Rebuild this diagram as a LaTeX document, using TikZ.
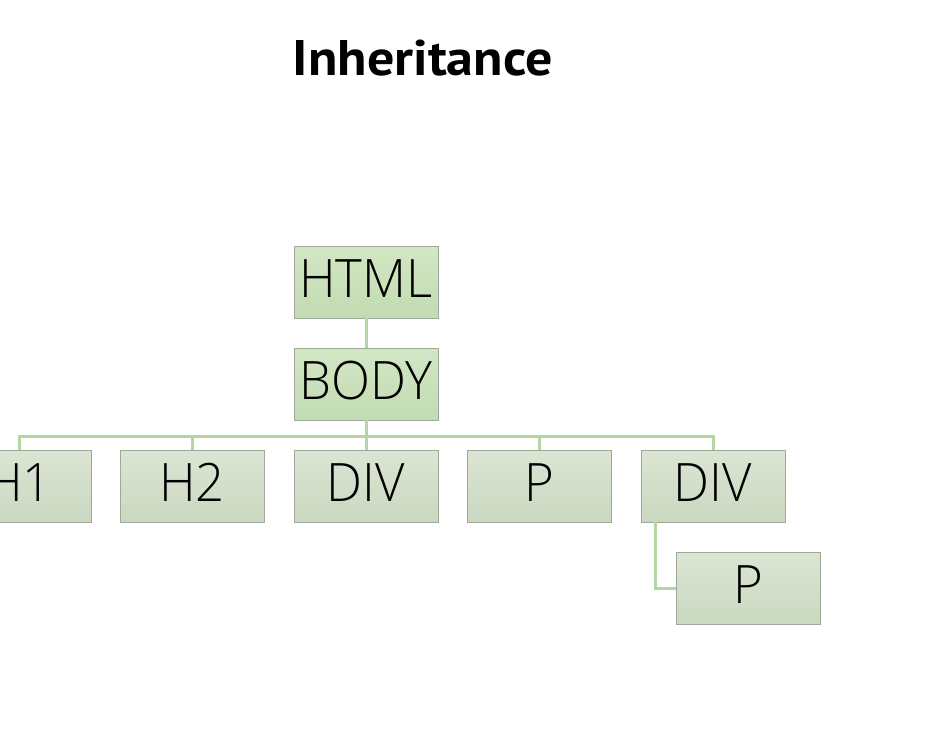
\documentclass[tikz,border=0pt]{standalone}
\usepackage{fontspec}
\usepackage{xcolor}
\newfontfamily\titlefont[FakeStretch=1.08]{PT Sans}
\newfontfamily\boxfont[FakeStretch=0.96]{Open Sans Light}
\definecolor{boxtop}{HTML}{D2E7C5}
\definecolor{boxbot}{HTML}{C2DBB1}
\definecolor{kidtop}{HTML}{DBE5D3}
\definecolor{kidbot}{HTML}{CAD8C0}
\definecolor{edge}{HTML}{9EA99A}
\definecolor{linkcol}{HTML}{B5D6A3}
\begin{document}
\begin{tikzpicture}[x=1pt, y=-1pt,
        tag/.style={draw=edge, line width=0.8pt, top color=boxtop, bottom color=boxbot,
            minimum width=144pt, minimum height=72pt, inner sep=0pt,
            text height=39pt, text depth=9pt, font=\boxfont\fontsize{53}{53}\selectfont},
        kid/.style={tag, top color=kidtop, bottom color=kidbot},
        link/.style={draw=linkcol, line width=3pt}]
    \clip (0,0) rectangle (931,733);
    \useasboundingbox (0,0) rectangle (931,733);

    % Titolo
    \node[font=\titlefont\bfseries\fontsize{50}{50}\selectfont] (titolo) at (423,58) {Inheritance};

    % Nodi
    \node[tag] (html) at (366,282) {HTML};
    \node[tag] (body) at (366,384) {BODY};
    \foreach \n/\x/\t in {h1/19/H1, h2/192/H2, div/366/DIV, p/539/P, divb/713/DIV} {
            \node[kid] (\n) at (\x,486) {\t};
        }
    \node[kid] (pb) at (748,588) {P};

    % Collegamenti
    \draw[link] (html) -- (body);
    \foreach \n in {h1,h2,div,p,divb} {
            \draw[link] (body.south) -- ++(0,16) -| (\n.north);
        }
    \draw[link] ([xshift=-58pt]divb.south) |- (pb.west);
\end{tikzpicture}
\end{document}
